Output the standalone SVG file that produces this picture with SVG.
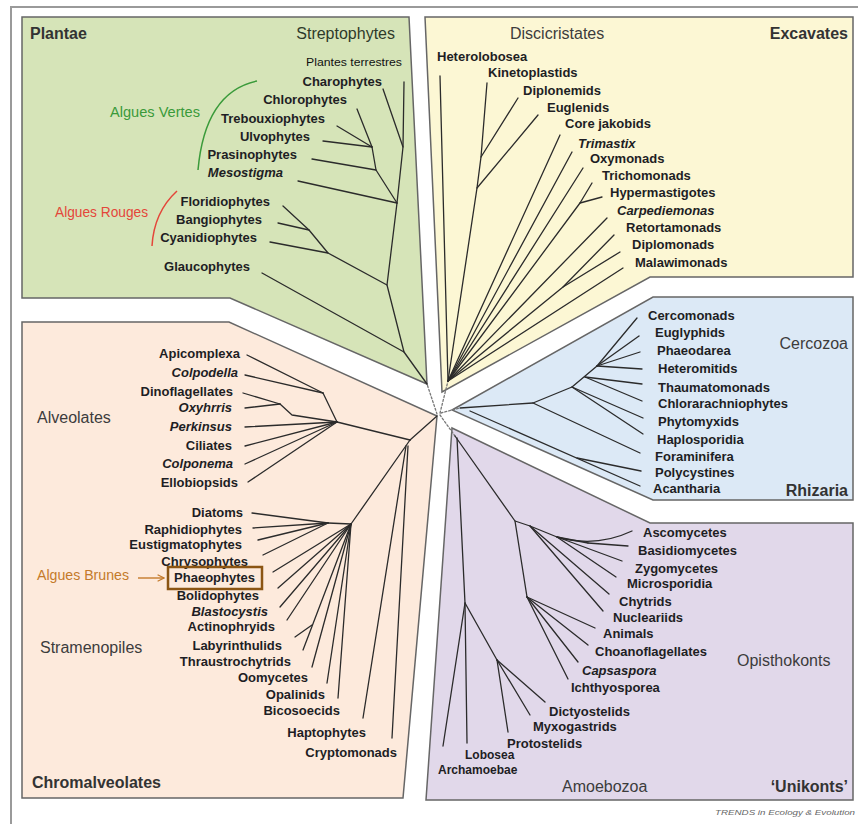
<svg xmlns="http://www.w3.org/2000/svg" width="858" height="824" viewBox="0 0 858 824">
<style>
.panel{stroke:#666;stroke-width:1.5;stroke-linejoin:miter}
.t{font-family:"Liberation Sans",Arial,sans-serif;font-size:13px;font-weight:bold;fill:#1e1e24}
.s{font-size:12px}
.e{text-anchor:end}
.i{font-style:italic}
.grp{font-family:"Liberation Sans",Arial,sans-serif;font-size:16px;fill:#3c3c3c}
.top{font-family:"Liberation Sans",Arial,sans-serif;font-size:16px;font-weight:bold;fill:#333}
.ann{font-family:"Liberation Sans",Arial,sans-serif;font-size:14px}
#tree path,#tree polyline,#tree line{fill:none;stroke:#2b2b2b;stroke-width:1.3;stroke-linecap:round;stroke-linejoin:round}
.dot{stroke-dasharray:2 2;stroke:#777 !important}
</style>
<defs>
<marker id="open" viewBox="0 0 10 10" refX="9" refY="5" markerWidth="8" markerHeight="8" orient="auto" markerUnits="userSpaceOnUse">
<path d="M1,1 L9,5 L1,9" fill="none" stroke="#c47a2a" stroke-width="1.4"/>
</marker>
</defs>
<rect width="858" height="824" fill="#ffffff"/>
<path d="M11,824 L11,7 L858,7" fill="none" stroke="#9a9a9a" stroke-width="2"/>

<g id="panels">
<polygon id="panel-plantae" class="panel" fill="#d6e4b8" points="22,17 409,17 427,384 230,298 22,298"/>
<polygon id="panel-excavates" class="panel" fill="#fcf7d4" points="425,17 853,17 853,277 650,277 442,392"/>
<polygon id="panel-rhizaria" class="panel" fill="#dce9f6" points="653,297 853,297 853,500 653,500 452,410"/>
<polygon id="panel-unikonts" class="panel" fill="#e1d8ea" points="452,428 650,523 853,523 853,800 426,800"/>
<polygon id="panel-chromalveolates" class="panel" fill="#fdeadc" points="22,322 229,322 437,416 403,798 22,798"/>
</g>

<g id="tree">
<line class="dot" x1="437" y1="414" x2="427" y2="384"/>
<line class="dot" x1="440" y1="413" x2="448" y2="381"/>
<line class="dot" x1="441" y1="413" x2="460" y2="408"/>
<line class="dot" x1="440" y1="415" x2="455" y2="436"/>
<line x1="410" y1="440" x2="437" y2="416"/>
<polyline points="404,82 403,147 397,203 387,285 404,352 427,384"/>
<line x1="383" y1="89" x2="403" y2="147"/>
<line x1="357" y1="109" x2="372" y2="147"/>
<line x1="337" y1="126" x2="372" y2="147"/>
<line x1="323" y1="141" x2="372" y2="147"/>
<polyline points="372,147 376,170 397,203"/>
<line x1="312" y1="159" x2="376" y2="170"/>
<line x1="298" y1="181" x2="397" y2="203"/>
<polyline points="283,206 309,230 328,253 387,285"/>
<line x1="278" y1="223" x2="309" y2="230"/>
<line x1="270" y1="242" x2="328" y2="253"/>
<line x1="262" y1="273" x2="404" y2="352"/>
<line x1="440" y1="76" x2="448" y2="381"/>
<polyline points="487,83 481,157 477,188 448,381"/>
<line x1="518" y1="98" x2="481" y2="157"/>
<line x1="538" y1="115" x2="477" y2="188"/>
<line x1="560" y1="135" x2="448" y2="381"/>
<line x1="572" y1="152" x2="448" y2="381"/>
<line x1="583" y1="168" x2="448" y2="381"/>
<polyline points="592,183 580,203 448,381"/>
<line x1="602" y1="197" x2="580" y2="203"/>
<line x1="607" y1="218" x2="448" y2="381"/>
<polyline points="614,235 563,287 448,381"/>
<line x1="620" y1="252" x2="563" y2="287"/>
<line x1="623" y1="268" x2="448" y2="381"/>
<polyline points="460,408 533,403 572,387 597,366"/>
<line x1="597" y1="366" x2="637" y2="318"/>
<line x1="597" y1="366" x2="639" y2="336"/>
<line x1="597" y1="366" x2="640" y2="352"/>
<line x1="597" y1="366" x2="642" y2="369"/>
<line x1="585" y1="377" x2="642" y2="384"/>
<line x1="585" y1="377" x2="642" y2="401"/>
<line x1="572" y1="387" x2="643" y2="418"/>
<line x1="572" y1="387" x2="643" y2="434"/>
<line x1="533" y1="403" x2="640" y2="453"/>
<line x1="470" y1="411" x2="640" y2="486"/>
<line x1="577" y1="458" x2="641" y2="471"/>
<polyline points="410,440 337,422 292,415 280,404"/>
<line x1="247" y1="355" x2="323" y2="393"/>
<line x1="245" y1="375" x2="323" y2="393"/>
<line x1="323" y1="393" x2="337" y2="422"/>
<line x1="243" y1="393" x2="280" y2="404"/>
<line x1="245" y1="408" x2="280" y2="404"/>
<line x1="245" y1="427" x2="337" y2="422"/>
<line x1="245" y1="446" x2="337" y2="422"/>
<line x1="245" y1="464" x2="337" y2="422"/>
<line x1="248" y1="482" x2="337" y2="422"/>
<polyline points="410,440 351,524 328,523"/>
<line x1="252" y1="513" x2="328" y2="523"/>
<line x1="253" y1="528" x2="328" y2="523"/>
<line x1="258" y1="540" x2="328" y2="523"/>
<line x1="263" y1="555" x2="328" y2="523"/>
<line x1="273" y1="572" x2="351" y2="524"/>
<line x1="278" y1="588" x2="351" y2="524"/>
<line x1="280" y1="607" x2="351" y2="524"/>
<line x1="287" y1="620" x2="351" y2="524"/>
<line x1="295" y1="637" x2="312" y2="625"/>
<line x1="303" y1="650" x2="351" y2="524"/>
<line x1="312" y1="667" x2="351" y2="524"/>
<line x1="327" y1="683" x2="351" y2="524"/>
<line x1="338" y1="698" x2="351" y2="524"/>
<line x1="363" y1="718" x2="406" y2="446"/>
<line x1="392" y1="738" x2="408" y2="446"/>
<polyline points="455,436 515,521 530,526 557,537 588,543"/>
<path d="M557,537 Q596,548 632,531"/>
<line x1="588" y1="543" x2="628" y2="546"/>
<line x1="557" y1="537" x2="622" y2="561"/>
<line x1="557" y1="537" x2="616" y2="577"/>
<line x1="530" y1="526" x2="609" y2="594"/>
<line x1="530" y1="526" x2="603" y2="611"/>
<line x1="515" y1="521" x2="527" y2="597"/>
<line x1="527" y1="597" x2="595" y2="628"/>
<line x1="527" y1="597" x2="588" y2="645"/>
<line x1="527" y1="597" x2="578" y2="662"/>
<line x1="527" y1="597" x2="568" y2="679"/>
<polyline points="457,438 465,603 443,746"/>
<line x1="465" y1="603" x2="467" y2="743"/>
<line x1="465" y1="603" x2="497" y2="660"/>
<line x1="497" y1="660" x2="545" y2="702"/>
<line x1="497" y1="660" x2="530" y2="715"/>
<line x1="497" y1="660" x2="508" y2="732"/>
</g>

<g id="labels-groups">
<g id="lbl-plantae"><text class="top" x="30" y="39">Plantae</text></g>
<g id="lbl-streptophytes"><text class="grp e" x="395" y="39" style="fill:#2f3a2a">Streptophytes</text></g>
<g id="lbl-discicristates"><text class="grp" x="510" y="39">Discicristates</text></g>
<g id="lbl-excavates"><text class="top e" x="848" y="39">Excavates</text></g>
<g id="lbl-cercozoa"><text class="grp e" x="848" y="349">Cercozoa</text></g>
<g id="lbl-rhizaria"><text class="top e" x="848" y="496">Rhizaria</text></g>
<g id="lbl-alveolates"><text class="grp" x="37" y="423">Alveolates</text></g>
<g id="lbl-stramenopiles"><text class="grp" x="40" y="653">Stramenopiles</text></g>
<g id="lbl-chromalveolates"><text class="top" x="32" y="788">Chromalveolates</text></g>
<g id="lbl-opisthokonts"><text class="grp" x="737" y="666">Opisthokonts</text></g>
<g id="lbl-amoebozoa"><text class="grp" x="562" y="792">Amoebozoa</text></g>
<g id="lbl-unikonts"><text class="top e" x="848" y="792">‘Unikonts’</text></g>
</g>

<g id="annotations">
<g id="ann-terrestres"><text x="306" y="66" font-family="Liberation Sans, Arial, sans-serif" font-size="11" fill="#111" textLength="96" lengthAdjust="spacingAndGlyphs">Plantes terrestres</text></g>
<g id="ann-vertes"><text class="ann" x="110" y="117" fill="#3a9a3a" textLength="90" lengthAdjust="spacingAndGlyphs">Algues Vertes</text>
<path d="M257,81 Q205,92 198,170" fill="none" stroke="#3a9a3a" stroke-width="1.5"/></g>
<g id="ann-rouges"><text class="ann" x="55" y="217" fill="#e4463a" textLength="93" lengthAdjust="spacingAndGlyphs">Algues Rouges</text>
<path d="M177,191 Q154,212 152,246" fill="none" stroke="#e4463a" stroke-width="1.5"/></g>
<g id="ann-brunes"><text class="ann" x="37" y="580" fill="#c47a2a" textLength="92" lengthAdjust="spacingAndGlyphs">Algues Brunes</text>
<line x1="138" y1="578" x2="164" y2="578" stroke="#c47a2a" stroke-width="1.4" marker-end="url(#open)"/></g>
<g id="credit"><text x="715" y="815" font-family="Liberation Sans, Arial, sans-serif" font-size="7.5" font-style="italic" fill="#666" textLength="140" lengthAdjust="spacingAndGlyphs">TRENDS in Ecology &amp; Evolution</text></g>
</g>

<g id="taxa-plantae">
<g id="n-charophytes"><text class="t e" x="382" y="86">Charophytes</text></g>
<g id="n-chlorophytes"><text class="t e" x="347" y="104">Chlorophytes</text></g>
<g id="n-trebouxiophytes"><text class="t e" x="325" y="123">Trebouxiophytes</text></g>
<g id="n-ulvophytes"><text class="t e" x="310" y="141">Ulvophytes</text></g>
<g id="n-prasinophytes"><text class="t e" x="297" y="159">Prasinophytes</text></g>
<g id="n-mesostigma"><text class="t e i" x="283" y="177">Mesostigma</text></g>
<g id="n-floridiophytes"><text class="t e" x="270" y="206">Floridiophytes</text></g>
<g id="n-bangiophytes"><text class="t e" x="262" y="224">Bangiophytes</text></g>
<g id="n-cyanidiophytes"><text class="t e" x="257" y="242">Cyanidiophytes</text></g>
<g id="n-glaucophytes"><text class="t e" x="250" y="271">Glaucophytes</text></g>
</g>

<g id="taxa-excavates">
<g id="n-heterolobosea"><text class="t" x="437" y="61">Heterolobosea</text></g>
<g id="n-kinetoplastids"><text class="t" x="488" y="77">Kinetoplastids</text></g>
<g id="n-diplonemids"><text class="t" x="523" y="95">Diplonemids</text></g>
<g id="n-euglenids"><text class="t" x="547" y="112">Euglenids</text></g>
<g id="n-corejakobids"><text class="t" x="565" y="128">Core jakobids</text></g>
<g id="n-trimastix"><text class="t i" x="578" y="148">Trimastix</text></g>
<g id="n-oxymonads"><text class="t" x="590" y="163">Oxymonads</text></g>
<g id="n-trichomonads"><text class="t" x="602" y="180">Trichomonads</text></g>
<g id="n-hypermastigotes"><text class="t" x="610" y="197">Hypermastigotes</text></g>
<g id="n-carpediemonas"><text class="t i" x="617" y="215">Carpediemonas</text></g>
<g id="n-retortamonads"><text class="t" x="626" y="232">Retortamonads</text></g>
<g id="n-diplomonads"><text class="t" x="632" y="249">Diplomonads</text></g>
<g id="n-malawimonads"><text class="t" x="635" y="267">Malawimonads</text></g>
</g>

<g id="taxa-rhizaria">
<g id="n-cercomonads"><text class="t" x="648" y="320">Cercomonads</text></g>
<g id="n-euglyphids"><text class="t" x="655" y="337">Euglyphids</text></g>
<g id="n-phaeodarea"><text class="t" x="657" y="355">Phaeodarea</text></g>
<g id="n-heteromitids"><text class="t" x="658" y="373">Heteromitids</text></g>
<g id="n-thaumatomonads"><text class="t" x="658" y="392">Thaumatomonads</text></g>
<g id="n-chlorarachniophytes"><text class="t" x="658" y="408">Chlorarachniophytes</text></g>
<g id="n-phytomyxids"><text class="t" x="658" y="426">Phytomyxids</text></g>
<g id="n-haplosporidia"><text class="t" x="657" y="444">Haplosporidia</text></g>
<g id="n-foraminifera"><text class="t" x="655" y="461">Foraminifera</text></g>
<g id="n-polycystines"><text class="t" x="655" y="477">Polycystines</text></g>
<g id="n-acantharia"><text class="t" x="653" y="493">Acantharia</text></g>
</g>

<g id="taxa-alveolates">
<g id="n-apicomplexa"><text class="t e" x="240" y="358">Apicomplexa</text></g>
<g id="n-colpodella"><text class="t e i" x="238" y="377">Colpodella</text></g>
<g id="n-dinoflagellates"><text class="t e" x="233" y="396">Dinoflagellates</text></g>
<g id="n-oxyhrris"><text class="t e i" x="232" y="412">Oxyhrris</text></g>
<g id="n-perkinsus"><text class="t e i" x="232" y="431">Perkinsus</text></g>
<g id="n-ciliates"><text class="t e" x="232" y="450">Ciliates</text></g>
<g id="n-colponema"><text class="t e i" x="233" y="468">Colponema</text></g>
<g id="n-ellobiopsids"><text class="t e" x="238" y="487">Ellobiopsids</text></g>
</g>

<g id="taxa-stramenopiles">
<g id="n-diatoms"><text class="t e" x="243" y="517">Diatoms</text></g>
<g id="n-raphidiophytes"><text class="t e" x="242" y="534">Raphidiophytes</text></g>
<g id="n-eustigmatophytes"><text class="t e" x="242" y="549">Eustigmatophytes</text></g>
<g id="n-chrysophytes"><text class="t e" x="248" y="566">Chrysophytes</text></g>
<g id="n-phaeophytes"><text class="t e" x="255" y="582">Phaeophytes</text>
<rect x="168" y="567" width="94" height="22" fill="none" stroke="#8b5513" stroke-width="2.5"/></g>
<g id="n-bolidophytes"><text class="t e" x="259" y="600">Bolidophytes</text></g>
<g id="n-blastocystis"><text class="t e i" x="268" y="616">Blastocystis</text></g>
<g id="n-actinophryids"><text class="t e" x="275" y="631">Actinophryids</text></g>
<g id="n-labyrinthulids"><text class="t e" x="282" y="650">Labyrinthulids</text></g>
<g id="n-thraustrochytrids"><text class="t e" x="291" y="666">Thraustrochytrids</text></g>
<g id="n-oomycetes"><text class="t e" x="308" y="682">Oomycetes</text></g>
<g id="n-opalinids"><text class="t e" x="325" y="699">Opalinids</text></g>
<g id="n-bicosoecids"><text class="t e" x="340" y="715">Bicosoecids</text></g>
<g id="n-haptophytes"><text class="t e" x="366" y="737">Haptophytes</text></g>
<g id="n-cryptomonads"><text class="t e" x="397" y="757">Cryptomonads</text></g>
</g>

<g id="taxa-unikonts">
<g id="n-ascomycetes"><text class="t" x="643" y="537">Ascomycetes</text></g>
<g id="n-basidiomycetes"><text class="t" x="638" y="555">Basidiomycetes</text></g>
<g id="n-zygomycetes"><text class="t" x="635" y="573">Zygomycetes</text></g>
<g id="n-microsporidia"><text class="t" x="627" y="588">Microsporidia</text></g>
<g id="n-chytrids"><text class="t" x="619" y="606">Chytrids</text></g>
<g id="n-nucleariids"><text class="t" x="613" y="622">Nucleariids</text></g>
<g id="n-animals"><text class="t" x="603" y="638">Animals</text></g>
<g id="n-choanoflagellates"><text class="t" x="595" y="656">Choanoflagellates</text></g>
<g id="n-capsaspora"><text class="t i" x="582" y="675">Capsaspora</text></g>
<g id="n-ichthyosporea"><text class="t" x="571" y="692">Ichthyosporea</text></g>
<g id="n-dictyostelids"><text class="t" x="549" y="716">Dictyostelids</text></g>
<g id="n-myxogastrids"><text class="t" x="533" y="731">Myxogastrids</text></g>
<g id="n-protostelids"><text class="t" x="507" y="748">Protostelids</text></g>
<g id="n-lobosea"><text class="t s" x="465" y="759">Lobosea</text></g>
<g id="n-archamoebae"><text class="t s" x="438" y="774">Archamoebae</text></g>
</g>
</svg>
